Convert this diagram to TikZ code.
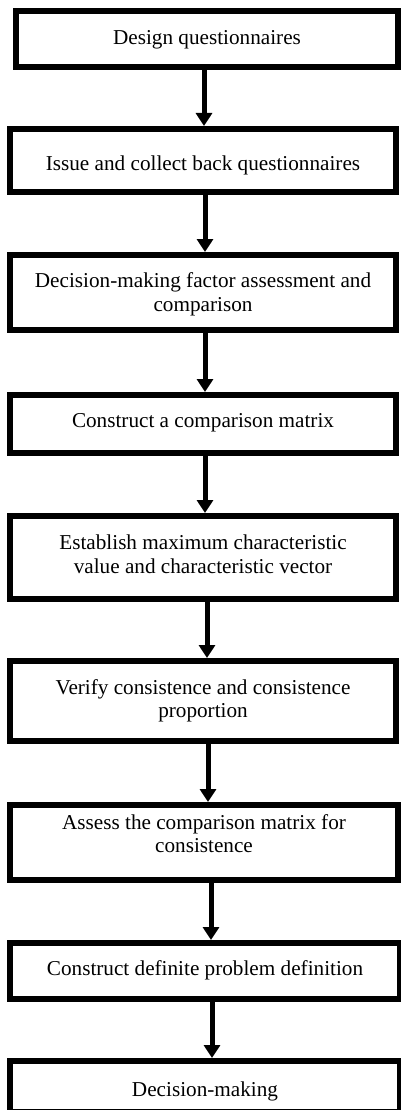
\documentclass[tikz,border=0pt]{standalone}
\usepackage{fontspec}
\setmainfont{Liberation Serif}
\usetikzlibrary{arrows.meta}
\newcommand{\boxtxt}[2]{\raisebox{#1}[\height][\depth]{\begin{tabular}{@{}c@{}}#2\end{tabular}}}
\begin{document}
\begin{tikzpicture}[x=1pt,y=-1pt,
  box/.style={draw=black, line width=6pt, fill=white, inner sep=0pt, align=center,
    font=\fontsize{21.2}{23.5}\selectfont},
  arr/.style={line width=5pt, -{Triangle[length=13pt,width=16pt]}}]
\useasboundingbox (0,0) rectangle (401,1110);
\node[box, minimum width=382pt, minimum height=56pt] (b1) at (207,39) {\boxtxt{-1.3pt}{Design questionnaires}};
\node[box, minimum width=386pt, minimum height=63pt] (b2) at (203,160.5) {\boxtxt{-5pt}{Issue and collect back questionnaires}};
\node[box, minimum width=386pt, minimum height=75pt] (b3) at (203,292.5) {\boxtxt{-2.5pt}{Decision-making factor assessment and\\comparison}};
\node[box, minimum width=386pt, minimum height=58pt] (b4) at (203,424) {\boxtxt{1.5pt}{Construct a comparison matrix}};
\node[box, minimum width=386pt, minimum height=83pt] (b5) at (203,557.5) {\boxtxt{0.5pt}{Establish maximum characteristic\\value and characteristic vector}};
\node[box, minimum width=386pt, minimum height=80pt] (b6) at (203,701) {\boxtxt{-0.5pt}{Verify consistence and consistence\\proportion}};
\node[box, minimum width=388pt, minimum height=75pt] (b7) at (204,842.5) {\boxtxt{6pt}{Assess the comparison matrix for\\consistence}};
\node[box, minimum width=390pt, minimum height=56pt] (b8) at (205,971) {\boxtxt{0pt}{Construct definite problem definition}};
\node[box, minimum width=390pt, minimum height=51pt] (b9) at (205,1086.5) {\boxtxt{-5pt}{Decision-making}};
\draw[arr] (b1.south -| 204,0) -- (b2.north -| 204,0);
\draw[arr] (b2.south -| 205,0) -- (b3.north -| 205,0);
\draw[arr] (b3.south -| 205,0) -- (b4.north -| 205,0);
\draw[arr] (b4.south -| 205,0) -- (b5.north -| 205,0);
\draw[arr] (b5.south -| 207,0) -- (b6.north -| 207,0);
\draw[arr] (b6.south -| 208,0) -- (b7.north -| 208,0);
\draw[arr] (b7.south -| 211,0) -- (b8.north -| 211,0);
\draw[arr] (b8.south -| 212,0) -- (b9.north -| 212,0);
\end{tikzpicture}
\end{document}
